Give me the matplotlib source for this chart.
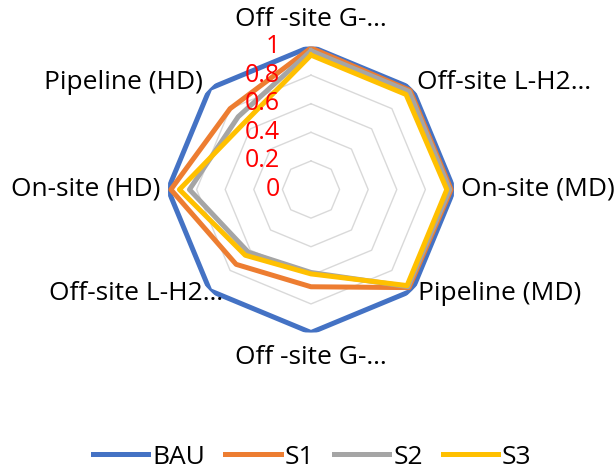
import numpy as np
import matplotlib.pyplot as plt

plt.rcParams['font.family'] = ['Open Sans', 'DejaVu Sans']

# Radar categories, clockwise from the top
categories = ['Off -site G-…', 'Off-site L-H2…', 'On-site (MD)', 'Pipeline (MD)',
              'Off -site G-…', 'Off-site L-H2…', 'On-site (HD)', 'Pipeline (HD)']
bau = [1.0, 1.0, 1.0, 1.0, 1.0, 1.0, 1.0, 1.0]
s1 = [0.99, 0.98, 0.98, 0.97, 0.68, 0.74, 0.98, 0.80]
s2 = [0.97, 0.97, 0.97, 0.96, 0.58, 0.62, 0.85, 0.72]
s3 = [0.94, 0.94, 0.95, 0.95, 0.59, 0.65, 0.92, 0.66]
series = {'BAU': bau, 'S1': s1, 'S2': s2, 'S3': s3}
colors = {'BAU': '#4472C4', 'S1': '#ED7D31', 'S2': '#A5A5A5', 'S3': '#FFC000'}
rticks = [0, 0.2, 0.4, 0.6, 0.8, 1.0]
rlabels = ['0', '0.2', '0.4', '0.6', '0.8', '1']

n = len(categories)
theta = np.linspace(0, 2 * np.pi, n, endpoint=False)
theta_c = np.append(theta, theta[0])

fig = plt.figure(figsize=(6.16, 4.71), dpi=100)
ax = fig.add_axes([0.2727, 0.294, 0.4643, 0.6072], projection='polar')
ax.set_theta_zero_location('N')
ax.set_theta_direction(-1)
ax.set_ylim(0, 1)
ax.set_xticks([])
ax.set_yticks([])
ax.spines['polar'].set_visible(False)
ax.grid(False)
ax.patch.set_alpha(0)

# octagonal gridlines
for r in rticks[1:]:
    ax.plot(theta_c, [r] * (n + 1), color='#D9D9D9', lw=1, zorder=1)

for name, vals in series.items():
    v = list(vals) + [vals[0]]
    ax.plot(theta_c, v, color=colors[name], lw=3.6, label=name,
            solid_joinstyle='round', zorder=2)

# radial value labels
for r, lab in zip(rticks, rlabels):
    ax.annotate(lab, xy=(0, r), xytext=(-31, 0), textcoords='offset pixels',
                ha='right', va='center', color='#FF0000', fontsize=18, zorder=3)

# category labels around the outside
offsets = [((0, 27), 'center'), ((5, 6), 'left'), ((7, 1), 'left'), ((6, -3), 'left'),
           ((0, -25), 'center'), ((13, -3), 'right'), ((-8, 1), 'right'), ((-7, 6), 'right')]
for t, lab, (off, ha) in zip(theta, categories, offsets):
    ax.annotate(lab, xy=(t, 1), xytext=off, textcoords='offset pixels',
                ha=ha, va='center', fontsize=19, annotation_clip=False)

fig.legend(loc='center', bbox_to_anchor=(0.507, 1 - 457 / 471), ncol=4, frameon=False,
           fontsize=19, handlelength=2.1, handletextpad=0.15, columnspacing=0.75)

fig.savefig('out.png', dpi=100)
